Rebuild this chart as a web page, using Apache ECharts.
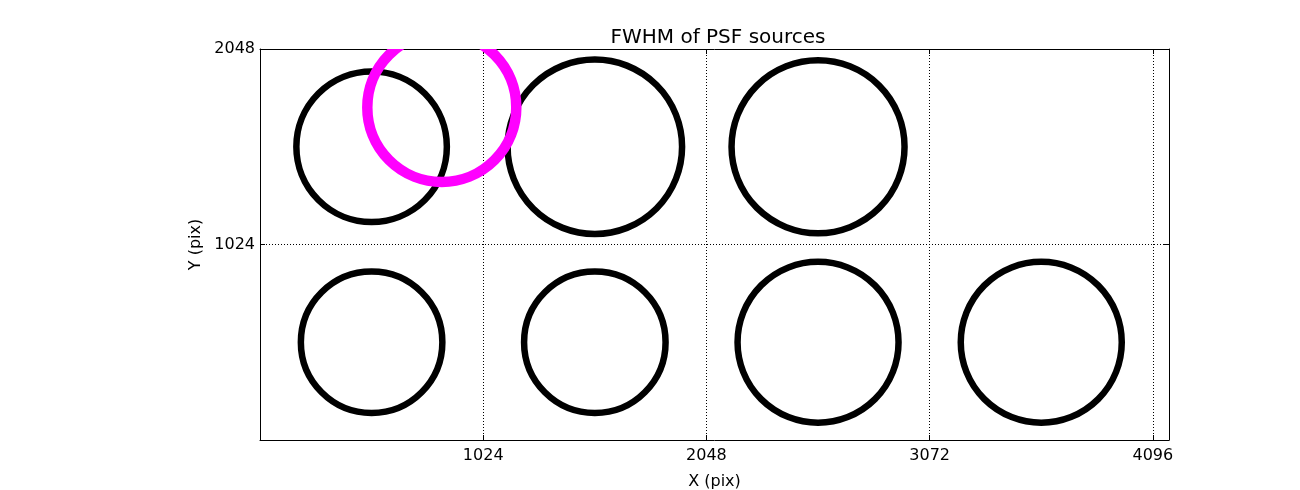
<!DOCTYPE html>
<html>
<head>
<meta charset="utf-8">
<script src="https://cdn.jsdelivr.net/npm/echarts@6/dist/echarts.min.js"></script>
<style>
html,body{margin:0;padding:0;background:#fff;}
#chart{width:1300px;height:490px;}
</style>
</head>
<body>
<div id="chart"></div>
<script>
// Data
const srcX = [512, 1536, 2560, 512, 1536, 2560, 3584];
const srcY = [1536, 1536, 1536, 512, 512, 512, 512];
const srcFwhm = [3.01, 3.49, 3.46, 2.83, 2.83, 3.22, 3.22];
const refX = [834];
const refY = [1742];
const refFwhm = [2.98];
const xTicks = [1024, 2048, 3072, 4096];
const yTicks = [1024, 2048];

const PX_PER_FWHM = 25;
const FONT = 'DejaVu Sans';

const srcData = srcX.map((x, i) => [x, srcY[i], srcFwhm[i]]);
const refData = refX.map((x, i) => [x, refY[i], refFwhm[i]]);

function circleRenderer(color, lw) {
  return function (params, api) {
    const p = api.coord([api.value(0), api.value(1)]);
    return {
      type: 'circle',
      shape: { cx: p[0], cy: p[1], r: api.value(2) * PX_PER_FWHM },
      style: { fill: 'none', stroke: color, lineWidth: lw }
    };
  };
}

const axisCommon = {
  axisLine: { show: true, onZero: false, lineStyle: { color: '#000', width: 1 } },
  axisTick: { show: true, inside: true, length: 5, lineStyle: { color: '#000', width: 1 } }
};

const chart = echarts.init(document.getElementById('chart'), null, { renderer: 'canvas' });
chart.setOption({
  backgroundColor: '#fff',
  animation: false,
  title: {
    text: 'FWHM of PSF sources',
    left: 713, textAlign: 'center', top: 23,
    textStyle: { fontFamily: FONT, fontSize: 20, fontWeight: 'normal', color: '#000' }
  },
  grid: { left: 260, top: 49, width: 909, height: 391, containLabel: false, outerBoundsMode: 'none' },
  xAxis: [
    Object.assign({}, axisCommon, {
      type: 'value', position: 'bottom', min: 0, max: 4170, interval: 1024,
      name: 'X (pix)', nameLocation: 'middle', nameGap: 34,
      nameTextStyle: { fontFamily: FONT, fontSize: 16, color: '#000' },
      axisLabel: {
        margin: 8, fontFamily: FONT, fontSize: 16, color: '#000',
        formatter: v => (xTicks.indexOf(v) >= 0 ? String(v) : '')
      },
      splitLine: { show: true, lineStyle: { color: '#000', width: 1, type: [1, 2] } }
    }),
    Object.assign({}, axisCommon, {
      type: 'value', position: 'top', min: 0, max: 4170, interval: 1024,
      axisLabel: { show: false }, splitLine: { show: false }
    })
  ],
  yAxis: [
    Object.assign({}, axisCommon, {
      type: 'value', position: 'left', min: 0, max: 2048, interval: 1024,
      name: 'Y (pix)', nameLocation: 'middle', nameGap: 53,
      nameTextStyle: { fontFamily: FONT, fontSize: 16, color: '#000' },
      axisLabel: {
        margin: 5, fontFamily: FONT, fontSize: 16, color: '#000',
        formatter: v => (yTicks.indexOf(v) >= 0 ? String(v) : '')
      },
      splitLine: { show: true, lineStyle: { color: '#000', width: 1, type: [1, 2] } }
    }),
    Object.assign({}, axisCommon, {
      type: 'value', position: 'right', min: 0, max: 2048, interval: 1024,
      axisLabel: { show: false }, splitLine: { show: false }
    })
  ],
  series: [
    {
      type: 'custom', name: 'sources', clip: true,
      xAxisIndex: 0, yAxisIndex: 0,
      encode: { x: 0, y: 1 },
      data: srcData,
      renderItem: circleRenderer('#000000', 6.5)
    },
    {
      type: 'custom', name: 'reference', clip: true,
      xAxisIndex: 0, yAxisIndex: 0,
      encode: { x: 0, y: 1 },
      data: refData,
      renderItem: circleRenderer('#ff00ff', 10.5)
    }
  ]
});
</script>
</body>
</html>
